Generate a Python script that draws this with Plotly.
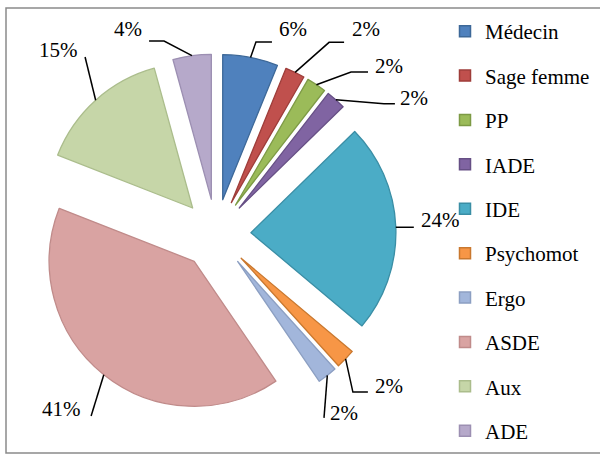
import math
import plotly.graph_objects as go

# ---- data (shares; labels as printed) ----
labels = ["Médecin", "Sage femme", "PP", "IADE", "IDE", "Psychomot", "Ergo", "ASDE", "Aux", "ADE"]
values = [6.2, 2.2, 2.2, 2.2, 23.6, 2.2, 2.2, 40.8, 14.9, 4.3]
pct_text = ["6%", "2%", "2%", "2%", "24%", "2%", "2%", "41%", "15%", "4%"]

# ---- styles ----
fills = ["#4F81BD", "#C0504D", "#9BBB59", "#8064A2", "#4BACC6",
         "#F79646", "#A2B6DB", "#D9A3A2", "#C6D6A8", "#B6A9CA"]
borders = ["#3D6898", "#9E3D3A", "#7D9A45", "#664F85", "#3A8EA5",
           "#C9782F", "#8C9FC2", "#C08B8A", "#ABBD8C", "#9C8FB2"]
W, H = 600, 455
CX, CY, R, PULL = 216.0, 234.0, 145.0, 0.241
FONT = "Liberation Serif, Times New Roman, serif"
FS = 21
# leader line layout per label (pixels relative to slice anchor): elbow, end, text centre
label_layout = [
    ((5.4, -15.4), (21.4, -15.4), (42, -28.4)),
    ((34, -30), (49, -30), (70.6, -43)),
    ((34.6, -12.6), (51.6, -12.6), (72.6, -18.6)),
    ((48, 4), (59, 4), (78.5, -1.8)),
    (None, (18, 0), (45, -7)),
    ((7.3, 33.2), (22.3, 33.2), (43.8, 27.2)),
    (None, (-3.3, 42.5), (16.2, 37.5)),
    (None, (-12.7, 41.3), (-42.2, 34.3)),
    (None, (-10.6, -43.2), (-37.6, -50.2)),
    ((-27.9, -14.6), (-42.9, -14.6), (-64.4, -26.6)),
]

S = R * (2 + 2 * PULL)
dom_x = [(CX - S / 2) / W, (CX + S / 2) / W]
dom_y = [1 - (CY + S / 2) / H, 1 - (CY - S / 2) / H]

def px(x):
    return x / W

def py(y):
    return 1 - y / H

fig = go.Figure()
fig.add_trace(go.Pie(
    labels=labels, values=values, sort=False, direction="clockwise", rotation=0,
    pull=PULL, textinfo="none", hoverinfo="label+percent",
    marker=dict(colors=fills, line=dict(color=borders, width=1.3)),
    domain=dict(x=dom_x, y=dom_y), showlegend=False,
))

# legend entries
for lab, f, b in zip(labels, fills, borders):
    fig.add_trace(go.Scatter(
        x=[None], y=[None], mode="markers", name=lab, legendgroup=lab,
        marker=dict(symbol="square", size=11, color=f, line=dict(color=b, width=1.5)),
    ))

# labels with leader lines, anchored at each slice's outer arc midpoint
total = sum(values)
cum = 0.0
shapes = []
annotations = []
for v, txt, (elb, end, tc) in zip(values, pct_text, label_layout):
    mid = (cum + v / 2) / total * 2 * math.pi
    cum += v
    ax = CX + (1 + PULL) * R * math.sin(mid)
    ay = CY - (1 + PULL) * R * math.cos(mid)
    pts = [(ax, ay)]
    if elb is not None:
        pts.append((ax + elb[0], ay + elb[1]))
    pts.append((ax + end[0], ay + end[1]))
    path = "M " + " L ".join(f"{px(x):.5f},{py(y):.5f}" for x, y in pts)
    shapes.append(dict(type="path", xref="paper", yref="paper", path=path,
                       line=dict(color="black", width=1.5)))
    annotations.append(dict(xref="paper", yref="paper", x=px(ax + tc[0]), y=py(ay + tc[1]),
                            text=txt, showarrow=False, xanchor="center", yanchor="middle",
                            font=dict(family=FONT, size=FS, color="black")))

# chart frame
shapes.append(dict(type="rect", xref="paper", yref="paper",
                   x0=px(6), x1=px(606), y0=py(453), y1=py(8),
                   line=dict(color="#8A8A8A", width=1.5), fillcolor="rgba(0,0,0,0)"))

fig.update_layout(
    width=W, height=H,
    margin=dict(l=0, r=0, t=0, b=0),
    paper_bgcolor="white", plot_bgcolor="white",
    xaxis=dict(visible=False), yaxis=dict(visible=False),
    shapes=shapes, annotations=annotations,
    font=dict(family=FONT, size=FS, color="black"),
    legend=dict(x=445 / W, y=py(11), xanchor="left", yanchor="top",
                font=dict(family=FONT, size=FS, color="black"),
                tracegroupgap=14.1, bgcolor="rgba(0,0,0,0)"),
    showlegend=True,
)

fig.write_html("out.html", config={"displayModeBar": False},
               post_script="document.body.style.margin='0';")
